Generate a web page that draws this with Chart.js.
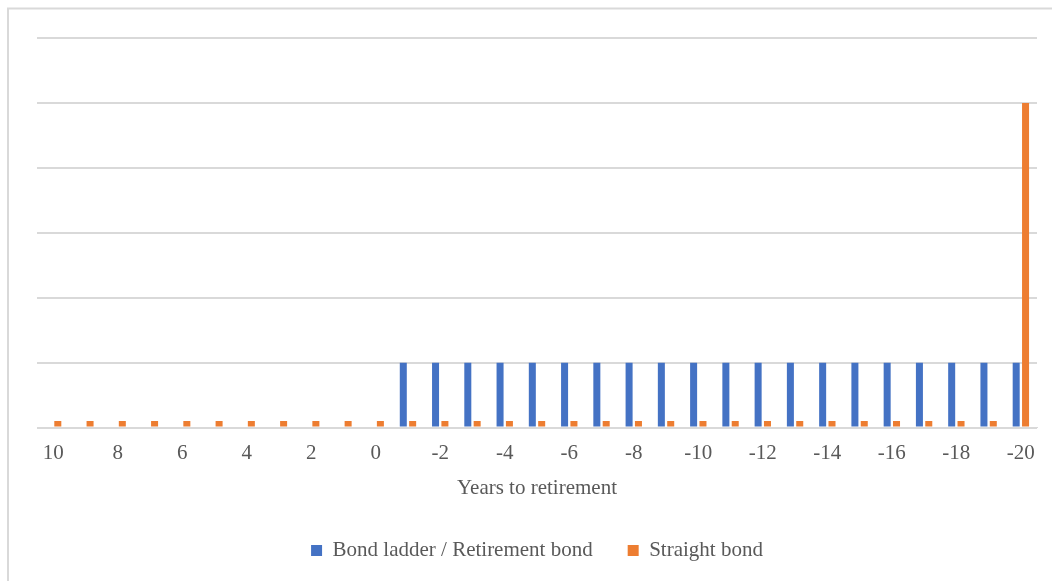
<!DOCTYPE html>
<html>
<head>
<meta charset="utf-8">
<script src="https://cdn.jsdelivr.net/npm/chart.js@4"></script>
<style>
  html, body { margin: 0; padding: 0; background: #ffffff; }
  #wrap { position: relative; width: 1052px; height: 581px; }
</style>
</head>
<body>
<div id="wrap"><canvas id="chart" width="1052" height="581"></canvas></div>
<script>
// Years to retirement, 10 years before down to 20 years after
const years = [10, 9, 8, 7, 6, 5, 4, 3, 2, 1, 0, -1, -2, -3, -4, -5, -6, -7, -8, -9, -10,
  -11, -12, -13, -14, -15, -16, -17, -18, -19, -20];

// Payments from the bond ladder / retirement bond: nothing before retirement, flat afterwards
const ladderPayments = [0, 0, 0, 0, 0, 0, 0, 0, 0, 0, 0, 1, 1, 1, 1, 1, 1, 1, 1, 1, 1,
  1, 1, 1, 1, 1, 1, 1, 1, 1, 1];

// Payments from a straight bond: small coupons every year, principal at maturity
const straightPayments = [0.1, 0.1, 0.1, 0.1, 0.1, 0.1, 0.1, 0.1, 0.1, 0.1, 0.1, 0.1, 0.1, 0.1, 0.1, 0.1,
  0.1, 0.1, 0.1, 0.1, 0.1, 0.1, 0.1, 0.1, 0.1, 0.1, 0.1, 0.1, 0.1, 0.1, 5];

const seriesNames = ['Bond ladder / Retirement bond', 'Straight bond'];
const axisTitle = 'Years to retirement';

const textColor = '#595959';
const gridColor = '#d9d9d9';
const fontFamily = '"Liberation Serif", "Times New Roman", serif';

// Light frame around the chart
const framePlugin = {
  id: 'frame',
  beforeDraw(chart) {
    const ctx = chart.ctx;
    ctx.save();
    ctx.strokeStyle = gridColor;
    ctx.lineWidth = 2;
    ctx.strokeRect(8, 8.5, chart.width + 10, chart.height + 10);
    ctx.restore();
  }
};

new Chart(document.getElementById('chart'), {
  type: 'bar',
  data: {
    labels: years.map(String),
    datasets: [
      {
        label: seriesNames[0],
        data: ladderPayments,
        backgroundColor: '#4472C4',
        categoryPercentage: 0.58,
        barPercentage: 0.75
      },
      {
        label: seriesNames[1],
        data: straightPayments,
        backgroundColor: '#ED7D31',
        categoryPercentage: 0.58,
        barPercentage: 0.75
      }
    ]
  },
  options: {
    responsive: false,
    animation: false,
    layout: { padding: { left: 37, right: 15, top: 38, bottom: 10 } },
    scales: {
      x: {
        grid: { display: false },
        border: { display: true, color: gridColor, width: 1 },
        ticks: {
          autoSkip: false,
          maxRotation: 0,
          padding: 5,
          color: textColor,
          font: { family: fontFamily, size: 21 },
          callback(value, index) { return index % 2 === 0 ? this.getLabelForValue(value) : ''; }
        },
        title: {
          display: true,
          text: axisTitle,
          color: textColor,
          font: { family: fontFamily, size: 21 },
          padding: { top: 5, bottom: 4 }
        }
      },
      y: {
        min: 0,
        max: 6,
        ticks: { display: false, stepSize: 1 },
        grid: { color: gridColor, lineWidth: 2, drawTicks: false },
        border: { display: false }
      }
    },
    plugins: {
      legend: {
        position: 'bottom',
        labels: {
          boxWidth: 11,
          boxHeight: 11,
          padding: 35,
          color: textColor,
          font: { family: fontFamily, size: 21 }
        }
      },
      tooltip: { enabled: false }
    }
  },
  plugins: [framePlugin]
});
</script>
</body>
</html>
